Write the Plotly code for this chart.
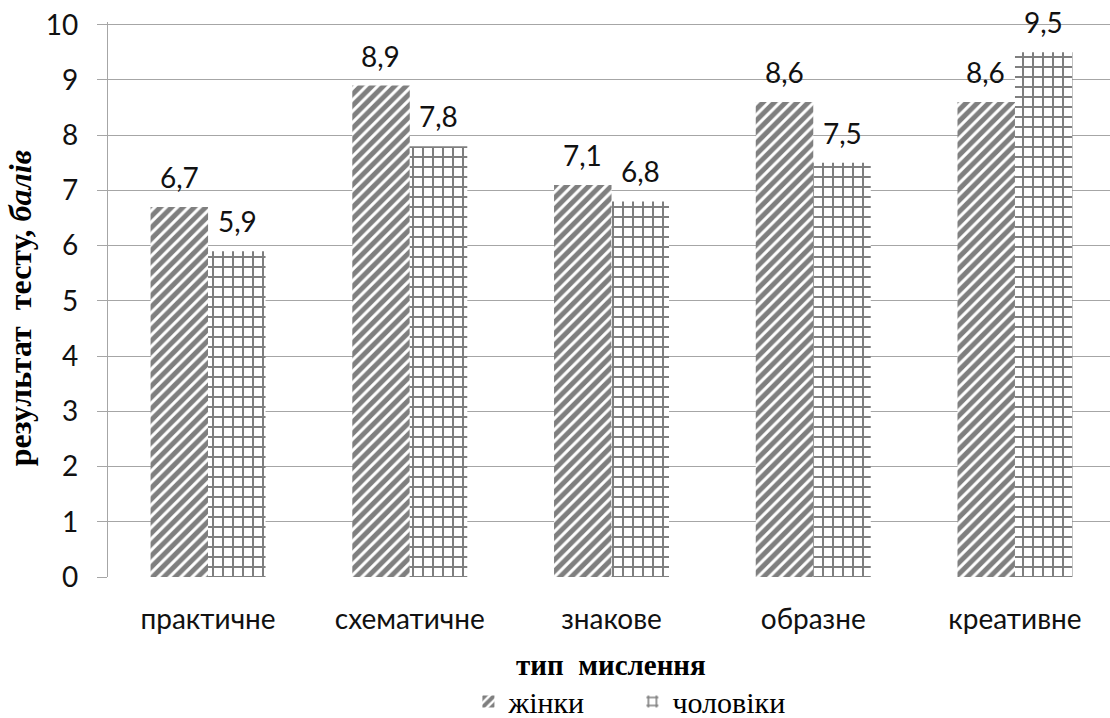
import plotly.graph_objects as go

categories = ["практичне", "схематичне", "знакове", "образне", "креативне"]
women = [6.7, 8.9, 7.1, 8.6, 8.6]
men = [5.9, 7.8, 6.8, 7.5, 9.5]
series_names = ["жінки", "чоловіки"]
y_ticks = list(range(0, 11))

def fmt(v):
    return f"{v:.1f}".replace(".", ",")

SANS = "Lato, Open Sans, sans-serif"
SERIF = "Liberation Serif, Times New Roman, serif"
label_font = dict(family=SANS, size=28, color="#111111")

fig = go.Figure()
fig.add_trace(go.Bar(
    x=categories, y=women, name=series_names[0],
    marker=dict(color="white", line=dict(width=0),
                pattern=dict(shape="/", fgcolor="black", bgcolor="white", size=8, solidity=0.62)),
))
fig.add_trace(go.Bar(
    x=categories, y=men, name=series_names[1],
    marker=dict(color="white", line=dict(width=0),
                pattern=dict(shape="+", fgcolor="black", bgcolor="white", size=10, solidity=0.36)),
))

annotations = []
for cat, w, m in zip(categories, women, men):
    annotations.append(dict(x=cat, y=w, text=fmt(w), xref="x", yref="y", showarrow=False,
                            xshift=-29, yshift=30, xanchor="center", yanchor="middle",
                            font=label_font))
    annotations.append(dict(x=cat, y=m, text=fmt(m), xref="x", yref="y", showarrow=False,
                            xshift=29, yshift=30, xanchor="center", yanchor="middle",
                            font=label_font))

annotations += [
    dict(text="<b>тип&nbsp;&nbsp;мислення</b>", xref="paper", yref="paper", x=0.502, y=-0.158,
         showarrow=False, xanchor="center", yanchor="middle",
         font=dict(family=SERIF, size=29, color="black")),
    dict(text="<b>результат&nbsp;&nbsp;тесту, <i>балів</i></b>", xref="paper", yref="paper",
         x=-0.087, y=0.484, textangle=-90, showarrow=False, xanchor="center", yanchor="middle",
         font=dict(family=SERIF, size=32, color="black")),
]

fig.update_layout(
    width=1110, height=718,
    margin=dict(l=108, r=0, t=22, b=141),
    paper_bgcolor="white", plot_bgcolor="white",
    barmode="group", bargap=0.43, bargroupgap=0,
    showlegend=True,
    legend=dict(orientation="h", xref="container", yref="container", x=0.422, y=0.023,
                xanchor="left", yanchor="middle",
                font=dict(family=SERIF, size=30, color="black"),
                itemwidth=30, entrywidthmode="pixels", entrywidth=119),
    yaxis=dict(range=[0, 10.05], tickvals=y_ticks, showgrid=True, gridcolor="#a6a6a6", gridwidth=1.3,
               showline=True, linecolor="#a6a6a6", linewidth=1.3,
               ticks="outside", ticklen=10, tickcolor="#a6a6a6", tickwidth=1.3,
               ticklabelstandoff=13, ticklabeloverflow="allow",
               tickfont=dict(family=SANS, size=28, color="#111111"),
               zeroline=False),
    xaxis=dict(showline=False, ticks="", ticklabelstandoff=23,
               tickfont=dict(family=SANS, size=28, color="#111111"),
               range=[-0.496, 4.471]),
    annotations=annotations,
)

fig.write_html("out.html", config={"displayModeBar": False},
               post_script="document.body.style.margin='0';document.body.style.overflow='hidden';")
